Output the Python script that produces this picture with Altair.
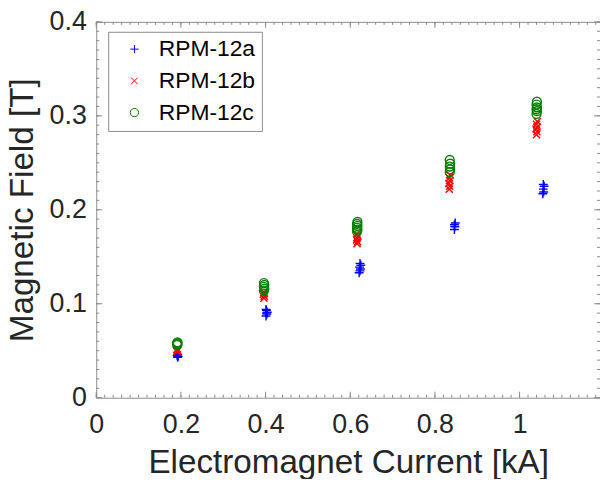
import altair as alt
import pandas as pd

# ---- data ----
series_names = ["RPM-12a", "RPM-12b", "RPM-12c"]

current_a = [0.192, 0.193, 0.191, 0.192, 0.193,
             0.401, 0.403, 0.402, 0.404, 0.402, 0.401,
             0.621, 0.623, 0.624, 0.622, 0.625, 0.623,
             0.846, 0.847, 0.846, 0.848,
             1.055, 1.057, 1.056, 1.058, 1.056]
field_a = [0.043, 0.044, 0.045, 0.046, 0.044,
           0.087, 0.089, 0.090, 0.091, 0.093, 0.094,
           0.133, 0.135, 0.137, 0.139, 0.141, 0.143,
           0.179, 0.182, 0.184, 0.186,
           0.217, 0.219, 0.222, 0.225, 0.227]

current_b = [0.191, 0.192, 0.190, 0.192,
             0.396, 0.397, 0.395, 0.397, 0.396,
             0.616, 0.617, 0.615, 0.616, 0.618, 0.616,
             0.834, 0.835, 0.833, 0.835, 0.834, 0.836,
             1.040, 1.041, 1.039, 1.041, 1.040, 1.042]
field_b = [0.049, 0.050, 0.051, 0.052,
           0.106, 0.108, 0.110, 0.111, 0.112,
           0.164, 0.166, 0.168, 0.170, 0.172, 0.174,
           0.222, 0.225, 0.228, 0.231, 0.234, 0.237,
           0.280, 0.283, 0.286, 0.288, 0.291, 0.294]

current_c = [0.191, 0.192, 0.191, 0.192,
             0.396, 0.397, 0.396, 0.397, 0.396,
             0.616, 0.617, 0.616, 0.617, 0.616, 0.617,
             0.835, 0.836, 0.835, 0.836, 0.835,
             1.040, 1.041, 1.040, 1.041, 1.040, 1.041]
field_c = [0.056, 0.057, 0.058, 0.059,
           0.114, 0.116, 0.118, 0.120, 0.122,
           0.177, 0.179, 0.181, 0.183, 0.185, 0.187,
           0.240, 0.243, 0.246, 0.249, 0.253,
           0.302, 0.305, 0.307, 0.309, 0.312, 0.315]

x_major = [0, 0.2, 0.4, 0.6, 0.8, 1.0]
x_minor = [round(i * 0.02, 2) for i in range(60)]
y_major = [0, 0.1, 0.2, 0.3, 0.4]
y_minor = [round(i * 0.01, 2) for i in range(41)]

colors = ["#0000ff", "#ff0000", "#008000"]
shapes = ["M-1,0L1,0M0,-1L0,1", "M-0.8,-0.8L0.8,0.8M-0.8,0.8L0.8,-0.8", "circle"]

rows = []
for name, xs, ys in zip(series_names, [current_a, current_b, current_c],
                        [field_a, field_b, field_c]):
    for xv, yv in zip(xs, ys):
        rows.append({"series": name, "current": xv, "field": yv})
df = pd.DataFrame(rows)

W, H = 508, 379
TXT = "#262626"
FONT = "Liberation Sans"
BOX = "#8c8c8c"

xscale = alt.Scale(domain=[0, 1.19], nice=False, zero=False)
yscale = alt.Scale(domain=[0, 0.4], nice=False, zero=False)

legend = alt.Legend(
    title=None, orient="none", legendX=12, legendY=10,
    labelFontSize=23, labelFont=FONT, labelColor="#000000",
    symbolSize=70, symbolStrokeWidth=1, symbolFillColor="transparent",
    symbolOffset=9, labelOffset=13, rowPadding=8, padding=6,
    strokeColor=BOX, fillColor="#ffffff",
)

points = alt.Chart(df).mark_point(filled=False, strokeWidth=1.4, size=80, opacity=1).encode(
    x=alt.X("current:Q", scale=xscale,
            axis=alt.Axis(values=x_major, format="~g", title="Electromagnet Current [kA]",
                          labelPadding=14, titlePadding=9, labelFlush=False)),
    y=alt.Y("field:Q", scale=yscale,
            axis=alt.Axis(values=y_major, format="~g", title="Magnetic Field [T]",
                          labelPadding=10, titlePadding=10, labelFlush=False)),
    color=alt.Color("series:N", scale=alt.Scale(domain=series_names, range=colors), legend=legend),
    shape=alt.Shape("series:N", scale=alt.Scale(domain=series_names, range=shapes), legend=legend),
)

def xticks(values, length):
    d = pd.DataFrame({"v": values})
    bottom = alt.Chart(d).mark_rule(color=BOX, strokeWidth=1).encode(
        x=alt.X("v:Q", scale=xscale), y=alt.value(H), y2=alt.value(H - length))
    top = alt.Chart(d).mark_rule(color=BOX, strokeWidth=1).encode(
        x=alt.X("v:Q", scale=xscale), y=alt.value(0), y2=alt.value(length))
    return [bottom, top]

def yticks(values, length):
    d = pd.DataFrame({"v": values})
    left = alt.Chart(d).mark_rule(color=BOX, strokeWidth=1).encode(
        y=alt.Y("v:Q", scale=yscale), x=alt.value(0), x2=alt.value(length))
    right = alt.Chart(d).mark_rule(color=BOX, strokeWidth=1).encode(
        y=alt.Y("v:Q", scale=yscale), x=alt.value(W), x2=alt.value(W - length))
    return [left, right]

layers = xticks(x_minor, 3) + xticks(x_major, 6) + yticks(y_minor, 3) + yticks(y_major, 6) + [points]

chart = alt.layer(*layers).properties(
    width=W, height=H,
    autosize=alt.AutoSizeParams(type="none"),
    padding={"left": 89, "top": 12, "right": 0, "bottom": 80},
).configure_view(
    stroke=BOX, strokeWidth=1
).configure_axis(
    domain=False, ticks=False, grid=False,
    labelFont=FONT, labelFontSize=27, labelColor=TXT,
    titleFont=FONT, titleFontSize=33.5, titleFontWeight="normal", titleColor=TXT,
)

chart.save("out.html", embed_options={"renderer": "svg", "actions": False})
